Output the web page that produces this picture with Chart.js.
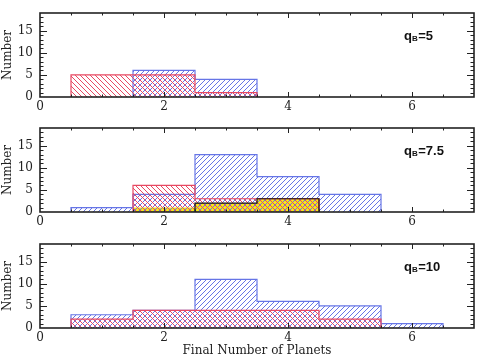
<!DOCTYPE html>
<html>
<head>
<meta charset="utf-8">
<script src="https://cdn.jsdelivr.net/npm/chart.js@4/dist/chart.umd.min.js"></script>
<style>
html, body { margin: 0; padding: 0; background: #fff; }
#wrap { position: relative; width: 477px; height: 357px; overflow: hidden; }
canvas { position: absolute; left: 0; }
</style>
</head>
<body>
<div id="wrap">
  <canvas id="p1" width="477" height="115" style="top:0px"></canvas>
  <canvas id="p2" width="477" height="115" style="top:115px"></canvas>
  <canvas id="p3" width="477" height="126" style="top:231px"></canvas>
</div>
<script>
// histogram bins (final number of planets)
const bins = [1, 2, 3, 4, 5, 6];
const xTicks = [0, 2, 4, 6];
const yTicks = [0, 5, 10, 15];

// q_B = 5
const blue5 = [0, 6, 4, 0, 0, 0];
const red5 = [5, 5, 1, 0, 0, 0];
// q_B = 7.5
const blue75 = [1, 4, 13, 8, 4, 0];
const red75 = [0, 6, 3, 3, 0, 0];
const yellow75 = [0, 1, 2, 3, 0, 0];
const black75 = [0, 0, 2, 3, 0, 0];
// q_B = 10
const blue10 = [3, 4, 11, 6, 5, 1];
const red10 = [2, 4, 4, 4, 2, 0];

const panelNames = ['5', '7.5', '10'];

const BLUE = '#6675e6';
const RED = '#e84862';
const YELLOW = '#f4e61a';

function hatch(color, dir) {
    const s = 5;
    const c = document.createElement('canvas');
    c.width = s; c.height = s;
    const g = c.getContext('2d');
    g.strokeStyle = color;
    g.lineWidth = 1;
    g.beginPath();
    if (dir === '/') {
        g.moveTo(0, s); g.lineTo(s, 0);
        g.moveTo(-1, 1); g.lineTo(1, -1);
        g.moveTo(s - 1, s + 1); g.lineTo(s + 1, s - 1);
    } else {
        g.moveTo(0, 0); g.lineTo(s, s);
        g.moveTo(-1, s - 1); g.lineTo(1, s + 1);
        g.moveTo(s - 1, -1); g.lineTo(s + 1, 1);
    }
    g.stroke();
    return g.createPattern(c, 'repeat');
}

// outline of a histogram as step points at bin edges
function stepPoints(values) {
    let first = values.findIndex(v => v > 0);
    let last = values.length - 1 - [...values].reverse().findIndex(v => v > 0);
    const pts = [{ x: bins[first] - 0.5, y: 0 }];
    for (let i = first; i <= last; i++) pts.push({ x: bins[i] - 0.5, y: values[i] });
    pts.push({ x: bins[last] + 0.5, y: values[last] });
    pts.push({ x: bins[last] + 0.5, y: 0 });
    return pts;
}

function histo(values, fill, line, order) {
    return {
        data: stepPoints(values),
        stepped: 'before',
        fill: fill ? 'origin' : false,
        backgroundColor: fill || 'rgba(0,0,0,0)',
        borderColor: line || 'rgba(0,0,0,0)',
        borderWidth: 1.2,
        pointRadius: 0,
        order
    };
}

const frame = {
    id: 'frame',
    afterDraw(chart) {
        const { ctx, chartArea: a, scales: { x, y } } = chart;
        ctx.save();
        ctx.strokeStyle = '#222';
        ctx.lineWidth = 1;
        ctx.beginPath();
        for (let v = 0.5; v < 7; v += 0.5) {
            const px = Math.round(x.getPixelForValue(v)) + 0.5;
            const len = v % 2 === 0 ? 5 : 2.5;
            ctx.moveTo(px, a.top); ctx.lineTo(px, a.top + len);
            ctx.moveTo(px, a.bottom); ctx.lineTo(px, a.bottom - len);
        }
        for (let v = 1; v < 19; v++) {
            const py = Math.round(y.getPixelForValue(v)) + 0.5;
            const len = v % 5 === 0 ? 7 : 3.5;
            ctx.moveTo(a.left, py); ctx.lineTo(a.left + len, py);
            ctx.moveTo(a.right, py); ctx.lineTo(a.right - len, py);
        }
        ctx.stroke();
        ctx.lineWidth = 1.6;
        ctx.strokeRect(a.left, a.top, a.right - a.left, a.bottom - a.top);

        // q_B label
        const name = chart.options.plugins.frame.name;
        let tx = a.right - 70;
        const ty = a.top + 23;
        ctx.fillStyle = '#111';
        ctx.textBaseline = 'middle';
        ctx.font = 'bold 13px "Liberation Sans"';
        ctx.fillText('q', tx, ty);
        tx += ctx.measureText('q').width;
        ctx.font = 'bold 8px "Liberation Sans"';
        ctx.fillText('B', tx, ty + 3);
        tx += ctx.measureText('B').width + 0.5;
        ctx.font = 'bold 13px "Liberation Sans"';
        ctx.fillText('=' + name, tx, ty);
        ctx.restore();
    }
};

const serif = { family: '"DejaVu Serif"', size: 12, lineHeight: 1 };

function makePanel(id, datasets, name, withTitle) {
    const ctx = document.getElementById(id).getContext('2d');
    return new Chart(ctx, {
        type: 'line',
        data: { datasets },
        options: {
            responsive: false,
            animation: false,
            layout: { padding: { top: 4, right: 3, left: 0, bottom: 0 } },
            plugins: { legend: { display: false }, tooltip: { enabled: false }, frame: { name } },
            scales: {
                x: {
                    type: 'linear', min: 0, max: 7,
                    grid: { display: false, drawTicks: false },
                    border: { display: false },
                    afterBuildTicks: s => { s.ticks = xTicks.map(v => ({ value: v })); },
                    afterFit: s => { s.height = withTitle ? 29 : 18; },
                    ticks: { font: serif, color: '#222', padding: 4, maxRotation: 0 },
                    title: {
                        display: withTitle, text: 'Final Number of Planets',
                        font: serif, color: '#222', padding: { top: 0, bottom: 0 }
                    }
                },
                y: {
                    min: 0, max: 19,
                    grid: { display: false, drawTicks: false },
                    border: { display: false },
                    afterBuildTicks: s => { s.ticks = yTicks.map(v => ({ value: v })); },
                    afterFit: s => { s.width = 40; },
                    ticks: { font: serif, color: '#222', padding: 7 },
                    title: {
                        display: true, text: 'Number',
                        font: serif, color: '#222', padding: { top: 2, bottom: 0 }
                    }
                }
            }
        },
        plugins: [frame]
    });
}

makePanel('p1', [
    histo(blue5, hatch(BLUE, '/'), BLUE, 3),
    histo(red5, hatch(RED, '\\'), RED, 2)
], panelNames[0], false);

makePanel('p2', [
    histo(yellow75, YELLOW, null, 4),
    histo(blue75, hatch(BLUE, '/'), BLUE, 3),
    histo(red75, hatch(RED, '\\'), RED, 2),
    histo(black75, null, '#111', 1)
], panelNames[1], false);

makePanel('p3', [
    histo(blue10, hatch(BLUE, '/'), BLUE, 3),
    histo(red10, hatch(RED, '\\'), RED, 2)
], panelNames[2], true);
</script>
</body>
</html>
